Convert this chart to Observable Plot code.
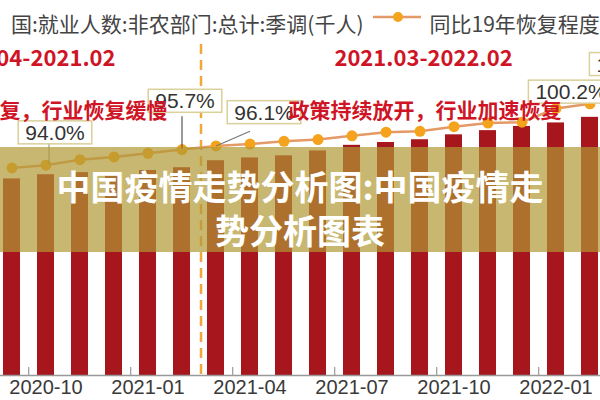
<!DOCTYPE html>
<html><head><meta charset="utf-8">
<script src="https://cdn.jsdelivr.net/npm/d3@7"></script>
<script src="https://cdn.jsdelivr.net/npm/@observablehq/plot@0.6"></script>
<style>
html,body{margin:0;padding:0;background:#fff;}
#wrap{position:relative;width:600px;height:400px;overflow:hidden;background:#fff;}
#swatch{position:absolute;left:370px;top:7px;}
#band{position:absolute;left:0;top:147px;width:600px;height:105px;background:rgba(176,152,52,0.7);}
#title{position:absolute;left:0;top:147px;width:600px;text-align:center;color:#fff;font-family:"Noto Sans CJK SC",sans-serif;font-weight:bold;font-size:34px;line-height:44px;padding-top:17px;white-space:nowrap;}
</style></head><body><div id="wrap"></div>
<script>
// ---- data ----
const months = ["2020-09","2020-10","2020-11","2020-12","2021-01","2021-02","2021-03","2021-04","2021-05","2021-06","2021-07","2021-08","2021-09","2021-10","2021-11","2021-12","2022-01","2022-02"];
const employment = [142100,142700,143000,143000,143300,143700,144700,145100,145400,146100,146900,147300,147700,148400,149000,149600,150100,150900];
const recovery = [93.7,94.0,94.6,94.9,95.3,95.7,96.1,96.3,96.6,96.8,97.2,97.6,97.7,98.2,98.6,98.7,100.2,100.7];
const tickMonths = ["2020-10","2021-01","2021-04","2021-07","2021-10","2022-01"];
const barAxis = [114000, 167600];
const pctAxis = [71, 112];
const legendBarText = "国:就业人数:非农部门:总计:季调(千人)";
const seriesLine = "同比19年恢复程度";
const periodLeft = "04-2021.02";
const periodRight = "2021.03-2022.02";
const noteLeft = "复，行业恢复缓慢";
const noteRight = "政策持续放开，行业加速恢复";
const titleLines = ["中国疫情走势分析图:中国疫情走", "势分析图表"];

const rows = months.map((m, i) => ({month: m, emp: employment[i], pct: recovery[i]}));
const toBar = d3.scaleLinear().domain(pctAxis).range(barAxis);
const row = m => rows.filter(d => d.month === m);

const red = "#cf1426";
const cjk = "Noto Sans CJK SC, sans-serif";
const pctText = d => d.pct.toFixed(1) + "%";
const labelOpts = {x: "month", y: d => toBar(d.pct), text: pctText, fontSize: 21, fill: "#333"};

const chart = Plot.plot({
  width: 600, height: 400,
  marginTop: 0, marginBottom: 25, marginLeft: 0, marginRight: 0,
  style: {fontFamily: "Liberation Sans, Arial, sans-serif", background: "white"},
  x: {type: "band", domain: months, range: [-11.3, 611.5], paddingInner: 0.5, paddingOuter: 0.25},
  y: {domain: barAxis, axis: null},
  marks: [
    Plot.barY(rows, {x: "month", y1: barAxis[0], y2: "emp", fill: "#a7161c"}),
    Plot.ruleY([barAxis[0]], {stroke: "#999", strokeWidth: 1.5}),
    Plot.ruleX(tickMonths, {x: d => d, dx: -17.3, insetTop: 367, stroke: "#999", strokeWidth: 1.2}),
    Plot.axisX({ticks: tickMonths, tickSize: 0, tickPadding: 4, fontSize: 20, color: "#3a3a3a", label: null}),
    Plot.ruleX(["2021-03"], {x: d => d, dx: -15, insetTop: 44, stroke: "#f0a838", strokeWidth: 2.5, strokeDasharray: "10,6"}),
    Plot.line(rows, {x: "month", y: d => toBar(d.pct), stroke: "#e49a66", strokeWidth: 2.5}),
    Plot.dot(rows, {x: "month", y: d => toBar(d.pct), r: 5.5, fill: "#f5a31c"}),
    // leader lines of the value callouts
    Plot.ruleX(row("2020-10"), {x: "month", y1: d => toBar(d.pct), y2: d => toBar(d.pct + 2.4), dx: 3, stroke: "#8d8a6a", strokeWidth: 1}),
    Plot.ruleX(row("2021-02"), {x: "month", y1: d => toBar(d.pct), y2: d => toBar(d.pct + 3.6), stroke: "#555", strokeWidth: 1.2}),
    Plot.link(row("2021-03"), {x1: "month", y1: d => toBar(d.pct), x2: () => "2021-04", y2: d => toBar(d.pct + 1.6), stroke: "#777", strokeWidth: 1.2}),
    // value callouts
    Plot.text(row("2020-10"), {...labelOpts, dx: 9, dy: -32}),
    Plot.text(row("2021-02"), {...labelOpts, dx: 3, dy: -48}),
    Plot.text(row("2021-03"), {...labelOpts, dx: 48, dy: -33}),
    Plot.text(row("2022-01"), {...labelOpts, dx: 15, dy: -16}),
    Plot.text(row("2022-02"), {...labelOpts, dx: 42, dy: -39}),
    // period annotations
    Plot.text([periodLeft], {text: d => d, frameAnchor: "top-left", dx: 115, dy: 50, textAnchor: "end", fontSize: 22, fontWeight: "bold", fill: red, fontFamily: cjk}),
    Plot.text([periodRight], {text: d => d, frameAnchor: "top-left", dx: 423, dy: 50, textAnchor: "middle", fontSize: 22, fontWeight: "bold", fill: red, fontFamily: cjk}),
    Plot.text([noteLeft], {text: d => d, frameAnchor: "top-left", dx: 167, dy: 103, textAnchor: "end", fontSize: 21, fontWeight: "bold", fill: red, fontFamily: cjk}),
    Plot.text([noteRight], {text: d => d, frameAnchor: "top-left", dx: 288, dy: 103, textAnchor: "start", fontSize: 21, fontWeight: "bold", fill: red, fontFamily: cjk}),
    // legend texts
    Plot.text([legendBarText], {text: d => d, frameAnchor: "top-left", dx: 363, dy: 17, textAnchor: "end", fontSize: 21, fill: "#444", fontFamily: cjk}),
    Plot.text([seriesLine], {text: d => d, frameAnchor: "top-left", dx: 429, dy: 17, textAnchor: "start", fontSize: 21, fill: "#444", fontFamily: cjk})
  ]
});

const wrap = document.getElementById("wrap");
wrap.appendChild(chart);

// boxes behind the value callouts
const ns = "http://www.w3.org/2000/svg";
chart.querySelectorAll("text").forEach(t => {
  if (!/^\d+\.\d%$/.test(t.textContent)) return;
  const bb = t.getBBox();
  const r = document.createElementNS(ns, "rect");
  r.setAttribute("x", bb.x - 7);
  r.setAttribute("y", bb.y);
  r.setAttribute("width", bb.width + 14);
  r.setAttribute("height", bb.height);
  r.setAttribute("fill", "#fff");
  r.setAttribute("stroke", "#d9d09a");
  r.setAttribute("stroke-width", "1.5");
  const tr = t.getAttribute("transform");
  if (tr) r.setAttribute("transform", tr);
  t.parentNode.insertBefore(r, t);
});

// legend swatch for the line series
const sw = document.createElement("div");
sw.id = "swatch";
sw.innerHTML = '<svg width="54" height="20"><line x1="3" y1="10" x2="51" y2="10" stroke="#e49a66" stroke-width="2.5"/><circle cx="28" cy="10" r="5" fill="#f5a31c"/></svg>';
wrap.appendChild(sw);

// semi-transparent title band
const band = document.createElement("div");
band.id = "band";
wrap.appendChild(band);
const title = document.createElement("div");
title.id = "title";
title.innerHTML = titleLines.join("<br>");
wrap.appendChild(title);
</script>
</body></html>
